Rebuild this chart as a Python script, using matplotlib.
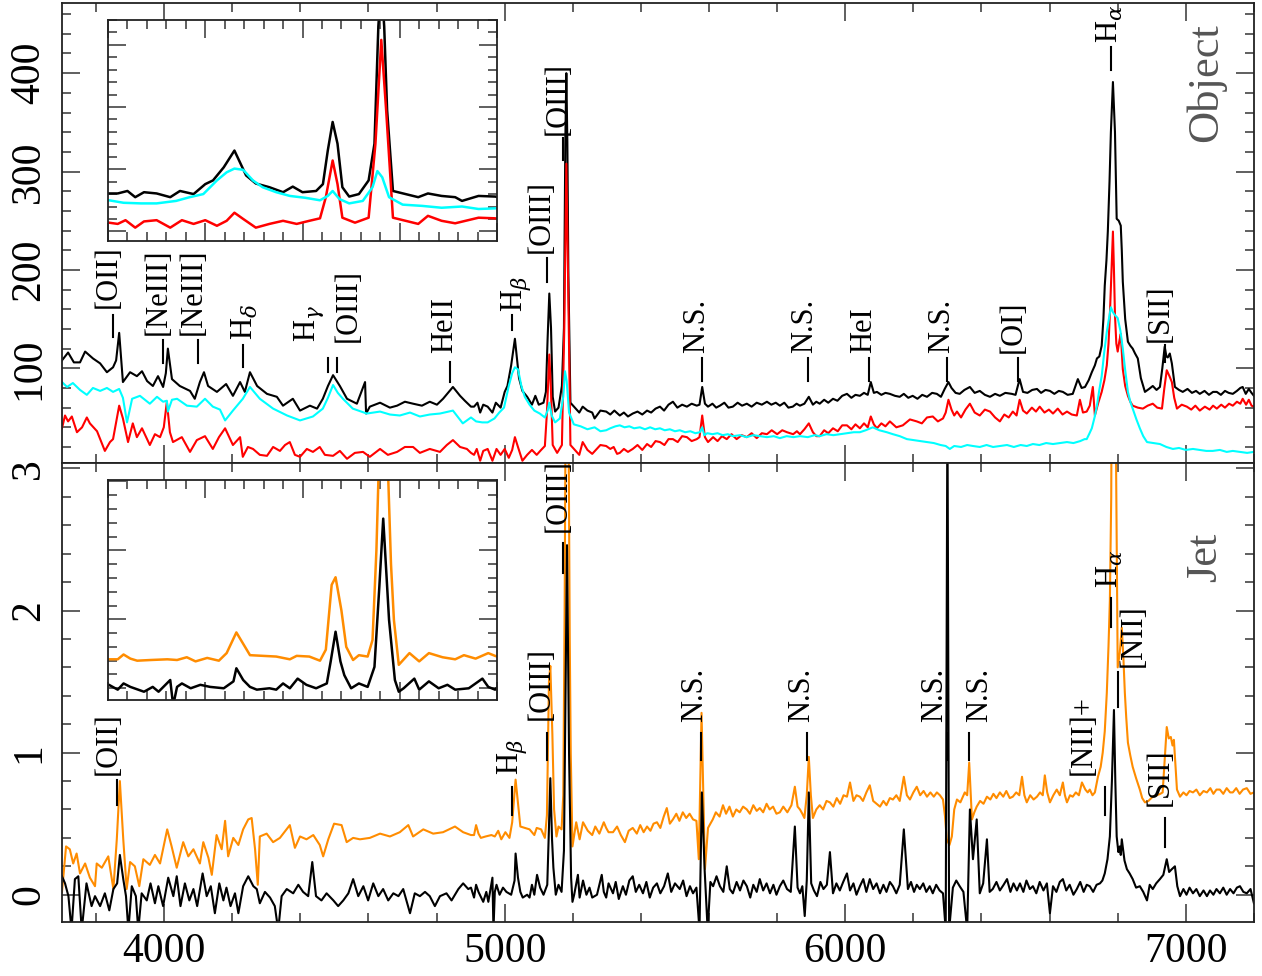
import matplotlib
matplotlib.use('Agg')
import matplotlib.pyplot as plt
from matplotlib.ticker import MultipleLocator

# ---- Object spectra (top panel): (wavelength [A], flux) ----
obj_black = [
    (3700, 108), (3718, 116), (3735, 106), (3753, 106), (3768, 117), (3791, 110), (3812, 105), (3832, 96),
    (3850, 101), (3859, 108), (3868, 136), (3879, 86), (3900, 96), (3920, 92), (3935, 97), (3950, 87),
    (3967, 82), (3982, 92), (3997, 81), (4005, 95), (4011, 120), (4023, 89), (4046, 82), (4076, 77),
    (4090, 69), (4105, 86), (4117, 96), (4129, 82), (4155, 76), (4182, 84), (4202, 72), (4223, 86),
    (4237, 76), (4252, 96), (4273, 82), (4302, 74), (4331, 71), (4349, 62), (4378, 69), (4399, 57),
    (4428, 62), (4449, 59), (4466, 69), (4481, 82), (4496, 93), (4516, 82), (4537, 69), (4566, 64),
    (4590, 86), (4593, 54), (4604, 61), (4634, 65), (4663, 60), (4684, 62), (4707, 66), (4731, 64),
    (4757, 62), (4780, 66), (4801, 63), (4819, 69), (4848, 81), (4869, 72), (4883, 67), (4901, 61),
    (4910, 61), (4920, 65), (4928, 55), (4937, 63), (4950, 61), (4964, 55), (4974, 65), (4988, 60),
    (5000, 76), (5008, 82), (5019, 103), (5030, 130), (5042, 90), (5052, 77), (5066, 71), (5080, 63),
    (5090, 72), (5100, 63), (5114, 65), (5121, 76), (5126, 130), (5131, 176), (5136, 141), (5141, 71),
    (5148, 56), (5158, 60), (5168, 82), (5174, 141), (5178, 330), (5181, 400), (5184, 330), (5187, 195),
    (5193, 65), (5206, 60), (5219, 55), (5229, 61), (5243, 57), (5257, 55), (5264, 49), (5281, 57),
    (5298, 56), (5310, 53), (5322, 57), (5338, 52), (5350, 55), (5362, 51), (5376, 54), (5390, 56),
    (5404, 53), (5418, 57), (5430, 55), (5443, 59), (5456, 61), (5468, 57), (5481, 63), (5494, 66),
    (5507, 60), (5521, 63), (5535, 61), (5549, 64), (5564, 62), (5572, 63), (5580, 81), (5588, 64),
    (5597, 61), (5610, 64), (5621, 60), (5632, 62), (5645, 65), (5657, 60), (5670, 61), (5684, 65),
    (5697, 62), (5711, 64), (5725, 61), (5740, 65), (5755, 63), (5770, 66), (5783, 63), (5796, 65),
    (5808, 62), (5821, 65), (5833, 60), (5846, 61), (5857, 64), (5867, 62), (5880, 64), (5893, 71),
    (5905, 63), (5915, 66), (5925, 64), (5938, 68), (5950, 65), (5964, 69), (5977, 67), (5991, 72),
    (6005, 74), (6018, 70), (6030, 73), (6043, 72), (6055, 75), (6066, 73), (6075, 86), (6084, 75),
    (6093, 76), (6106, 73), (6118, 75), (6131, 74), (6146, 72), (6160, 71), (6172, 74), (6185, 70),
    (6198, 72), (6212, 69), (6226, 73), (6240, 71), (6255, 75), (6269, 74), (6281, 71), (6292, 79),
    (6303, 86), (6312, 80), (6324, 75), (6336, 74), (6350, 78), (6366, 81), (6380, 75), (6395, 77),
    (6410, 73), (6425, 71), (6440, 74), (6454, 72), (6470, 75), (6489, 74), (6500, 73), (6512, 89),
    (6522, 76), (6535, 75), (6549, 78), (6563, 79), (6575, 75), (6588, 78), (6601, 77), (6614, 74),
    (6627, 77), (6639, 76), (6653, 73), (6668, 74), (6683, 89), (6694, 80), (6704, 81), (6715, 88),
    (6724, 96), (6733, 103), (6739, 110), (6746, 112), (6753, 123), (6758, 150), (6762, 184), (6767, 210),
    (6771, 239), (6776, 290), (6780, 340), (6786, 391), (6792, 340), (6795, 290), (6797, 252), (6803, 250),
    (6809, 245), (6812, 220), (6815, 188), (6822, 150), (6830, 127), (6837, 123), (6844, 120), (6851, 115),
    (6859, 110), (6868, 90), (6880, 76), (6892, 79), (6903, 82), (6914, 78), (6924, 81), (6931, 100),
    (6938, 122), (6943, 112), (6947, 111), (6953, 115), (6959, 105), (6968, 81), (6980, 78), (6991, 76),
    (7005, 79), (7018, 75), (7030, 77), (7041, 74), (7055, 77), (7068, 73), (7080, 76), (7091, 76),
    (7103, 73), (7115, 77), (7126, 75), (7138, 74), (7150, 77), (7160, 80), (7167, 81), (7176, 74),
    (7185, 79), (7193, 75), (7200, 72),
]

obj_red = [
    (3700, 39), (3709, 52), (3718, 46), (3729, 51), (3744, 35), (3759, 40), (3773, 50), (3782, 44),
    (3803, 36), (3826, 16), (3841, 25), (3850, 28), (3859, 45), (3868, 62), (3879, 49), (3894, 25),
    (3908, 44), (3920, 30), (3935, 39), (3958, 22), (3973, 33), (3988, 30), (3999, 40), (4008, 66),
    (4017, 35), (4026, 25), (4052, 30), (4076, 15), (4096, 27), (4120, 31), (4143, 18), (4161, 30),
    (4179, 39), (4202, 22), (4223, 30), (4231, 10), (4246, 20), (4261, 18), (4281, 12), (4302, 11),
    (4320, 20), (4340, 16), (4355, 22), (4369, 25), (4384, 12), (4399, 10), (4419, 18), (4437, 15),
    (4457, 20), (4472, 12), (4496, 11), (4516, 16), (4537, 8), (4560, 14), (4584, 15), (4604, 10),
    (4634, 18), (4657, 12), (4684, 15), (4707, 20), (4731, 20), (4751, 14), (4780, 18), (4810, 15),
    (4830, 22), (4848, 27), (4869, 20), (4889, 18), (4901, 14), (4910, 12), (4918, 18), (4928, 6),
    (4937, 16), (4950, 18), (4964, 6), (4976, 18), (4988, 12), (5000, 18), (5012, 9), (5022, 17),
    (5030, 30), (5039, 20), (5052, 6), (5066, 12), (5080, 17), (5094, 12), (5107, 17), (5118, 21),
    (5124, 55), (5131, 114), (5136, 76), (5141, 22), (5154, 14), (5168, 22), (5175, 141), (5181, 308),
    (5186, 195), (5193, 22), (5206, 17), (5219, 12), (5229, 25), (5243, 17), (5257, 13), (5281, 22),
    (5298, 21), (5310, 18), (5320, 20), (5330, 13), (5338, 14), (5350, 18), (5362, 15), (5376, 18),
    (5390, 22), (5404, 17), (5418, 23), (5430, 20), (5443, 26), (5456, 25), (5469, 22), (5481, 28),
    (5494, 28), (5508, 25), (5521, 31), (5535, 30), (5549, 26), (5564, 28), (5572, 30), (5580, 52),
    (5588, 30), (5597, 25), (5612, 30), (5625, 26), (5638, 31), (5652, 28), (5666, 33), (5681, 28),
    (5696, 32), (5711, 30), (5725, 34), (5740, 29), (5755, 34), (5770, 33), (5784, 37), (5800, 33),
    (5815, 37), (5829, 35), (5847, 33), (5858, 36), (5867, 33), (5880, 38), (5893, 44), (5905, 35),
    (5915, 31), (5925, 31), (5938, 37), (5950, 34), (5964, 39), (5978, 36), (5991, 42), (6005, 42),
    (6018, 38), (6030, 43), (6043, 39), (6055, 44), (6066, 40), (6075, 51), (6084, 43), (6093, 39),
    (6106, 44), (6118, 41), (6131, 46), (6150, 40), (6169, 42), (6190, 48), (6210, 46), (6225, 44),
    (6240, 50), (6257, 51), (6272, 46), (6287, 49), (6295, 55), (6303, 68), (6312, 58), (6320, 52),
    (6328, 56), (6340, 50), (6353, 58), (6366, 64), (6380, 55), (6395, 52), (6410, 58), (6425, 56),
    (6440, 50), (6454, 46), (6467, 53), (6480, 50), (6492, 56), (6503, 52), (6512, 68), (6522, 57),
    (6533, 54), (6548, 60), (6560, 56), (6571, 61), (6585, 55), (6598, 58), (6610, 54), (6624, 59),
    (6638, 53), (6651, 56), (6665, 53), (6680, 52), (6689, 68), (6698, 55), (6709, 56), (6718, 62),
    (6727, 81), (6733, 52), (6743, 65), (6753, 76), (6761, 88), (6768, 103), (6773, 125), (6777, 154),
    (6782, 200), (6786, 239), (6789, 200), (6792, 154), (6796, 125), (6800, 117), (6805, 128), (6809, 135),
    (6815, 99), (6822, 82), (6830, 72), (6837, 66), (6844, 62), (6859, 60), (6874, 59), (6888, 62),
    (6903, 64), (6916, 60), (6930, 59), (6937, 80), (6944, 98), (6952, 92), (6959, 86), (6966, 70),
    (6974, 59), (6988, 63), (7003, 61), (7016, 58), (7028, 62), (7041, 57), (7056, 61), (7070, 58),
    (7080, 62), (7091, 59), (7104, 63), (7115, 60), (7127, 64), (7138, 62), (7150, 66), (7160, 64),
    (7167, 69), (7177, 63), (7185, 68), (7193, 62), (7200, 61),
]

obj_cyan = [
    (3700, 86), (3715, 81), (3732, 85), (3753, 78), (3773, 73), (3791, 80), (3812, 77), (3832, 80),
    (3850, 76), (3868, 79), (3879, 70), (3891, 45), (3906, 69), (3929, 72), (3958, 64), (3979, 71),
    (3997, 66), (4008, 67), (4011, 56), (4023, 68), (4038, 69), (4067, 62), (4096, 61), (4120, 69),
    (4143, 61), (4164, 58), (4179, 47), (4202, 57), (4231, 69), (4252, 81), (4281, 69), (4320, 59),
    (4361, 52), (4399, 47), (4437, 51), (4466, 59), (4481, 70), (4496, 83), (4510, 75), (4525, 69),
    (4554, 59), (4595, 54), (4634, 56), (4663, 53), (4692, 52), (4722, 55), (4751, 51), (4780, 53),
    (4810, 54), (4848, 57), (4877, 44), (4901, 50), (4916, 46), (4934, 45), (4950, 45), (4970, 49),
    (4984, 55), (4998, 60), (5012, 82), (5022, 95), (5030, 101), (5039, 99), (5049, 82), (5059, 71),
    (5073, 63), (5087, 57), (5103, 54), (5118, 50), (5126, 57), (5131, 65), (5138, 52), (5148, 45),
    (5162, 49), (5172, 71), (5177, 97), (5182, 87), (5189, 55), (5203, 43), (5223, 41), (5243, 38),
    (5264, 40), (5281, 36), (5298, 37), (5310, 39), (5325, 41), (5338, 42), (5352, 40), (5366, 41),
    (5380, 39), (5397, 40), (5412, 38), (5427, 40), (5442, 38), (5456, 39), (5470, 37), (5485, 38),
    (5500, 36), (5514, 37), (5530, 35), (5545, 36), (5560, 34), (5573, 35), (5580, 40), (5586, 32),
    (5595, 34), (5610, 33), (5625, 34), (5640, 32), (5655, 33), (5670, 31), (5691, 32), (5710, 30),
    (5730, 32), (5749, 31), (5770, 30), (5790, 31), (5808, 29), (5828, 31), (5848, 30), (5867, 31),
    (5890, 30), (5910, 32), (5925, 31), (5945, 33), (5965, 32), (5984, 33), (6005, 34), (6025, 35),
    (6043, 35), (6060, 37), (6081, 40), (6100, 37), (6122, 35), (6140, 33), (6160, 31), (6181, 28),
    (6200, 27), (6220, 26), (6240, 25), (6260, 24), (6280, 22), (6295, 21), (6307, 18), (6320, 21),
    (6340, 20), (6358, 22), (6375, 21), (6395, 20), (6415, 22), (6434, 20), (6454, 21), (6475, 22),
    (6495, 20), (6515, 22), (6533, 21), (6551, 23), (6570, 22), (6590, 24), (6610, 23), (6630, 24),
    (6651, 25), (6670, 24), (6690, 26), (6703, 28), (6709, 28), (6716, 33), (6724, 39), (6732, 50),
    (6739, 62), (6746, 78), (6753, 92), (6760, 115), (6768, 137), (6775, 152), (6780, 162), (6786, 157),
    (6792, 154), (6800, 151), (6808, 138), (6815, 120), (6822, 98), (6830, 76), (6837, 66), (6844, 59),
    (6855, 48), (6865, 39), (6875, 31), (6886, 25), (6905, 24), (6924, 23), (6943, 20), (6962, 18),
    (6980, 19), (7000, 17), (7021, 18), (7040, 17), (7060, 16), (7079, 16), (7100, 17), (7120, 15),
    (7138, 16), (7160, 15), (7180, 14), (7200, 15),
]

# ---- Jet spectra (bottom panel) ----
jet_orange = [
    (3700, 0.02), (3712, 0.34), (3723, 0.32), (3733, 0.22), (3743, 0.29), (3753, 0.15), (3768, 0.22),
    (3782, 0.12), (3797, 0.06), (3802, 0.22), (3817, 0.19), (3836, 0.27), (3851, 0.04), (3861, 0.39),
    (3870, 0.80), (3880, 0.39), (3890, 0.04), (3900, 0.23), (3914, 0.20), (3927, 0.06), (3939, 0.25),
    (3958, 0.21), (3973, 0.28), (3988, 0.22), (4009, 0.46), (4022, 0.34), (4037, 0.19), (4056, 0.37),
    (4071, 0.27), (4086, 0.32), (4105, 0.22), (4115, 0.37), (4130, 0.26), (4140, 0.14), (4154, 0.42),
    (4169, 0.32), (4179, 0.52), (4188, 0.27), (4203, 0.40), (4218, 0.35), (4232, 0.46), (4247, 0.53),
    (4257, 0.54), (4267, 0.32), (4275, 0.07), (4281, 0.41), (4301, 0.43), (4320, 0.37), (4340, 0.40),
    (4369, 0.49), (4384, 0.33), (4399, 0.41), (4418, 0.39), (4438, 0.42), (4457, 0.35), (4467, 0.27),
    (4482, 0.39), (4499, 0.50), (4521, 0.49), (4536, 0.37), (4555, 0.40), (4575, 0.39), (4604, 0.40),
    (4634, 0.43), (4663, 0.41), (4692, 0.44), (4717, 0.49), (4731, 0.41), (4761, 0.46), (4790, 0.43),
    (4819, 0.44), (4854, 0.48), (4878, 0.44), (4901, 0.42), (4910, 0.42), (4916, 0.49), (4923, 0.43),
    (4930, 0.40), (4944, 0.41), (4961, 0.42), (4971, 0.41), (4981, 0.45), (4990, 0.39), (5002, 0.44),
    (5014, 0.40), (5022, 0.51), (5032, 0.81), (5046, 0.48), (5060, 0.47), (5073, 0.46), (5087, 0.42),
    (5094, 0.47), (5107, 0.46), (5118, 0.40), (5124, 0.56), (5130, 1.50), (5134, 1.61), (5140, 1.13),
    (5145, 0.60), (5152, 0.41), (5158, 0.48), (5167, 0.46), (5172, 0.70), (5176, 2.0), (5180, 4.0),
    (5186, 4.0), (5191, 1.8), (5194, 0.99), (5199, 0.34), (5210, 0.51), (5220, 0.39), (5230, 0.51),
    (5244, 0.45), (5257, 0.42), (5266, 0.48), (5278, 0.43), (5291, 0.51), (5298, 0.47), (5305, 0.44),
    (5318, 0.44), (5330, 0.48), (5341, 0.42), (5353, 0.37), (5364, 0.45), (5376, 0.47), (5388, 0.43),
    (5398, 0.49), (5408, 0.44), (5418, 0.48), (5428, 0.45), (5437, 0.50), (5447, 0.51), (5457, 0.47),
    (5467, 0.55), (5476, 0.61), (5485, 0.50), (5494, 0.53), (5504, 0.57), (5513, 0.52), (5523, 0.58),
    (5533, 0.54), (5543, 0.57), (5553, 0.53), (5563, 0.52), (5570, 0.25), (5578, 1.28), (5588, 0.18),
    (5597, 0.47), (5611, 0.53), (5620, 0.58), (5631, 0.55), (5641, 0.63), (5650, 0.57), (5660, 0.62),
    (5670, 0.55), (5680, 0.60), (5690, 0.58), (5700, 0.62), (5711, 0.60), (5720, 0.57), (5730, 0.63),
    (5740, 0.59), (5749, 0.61), (5759, 0.58), (5769, 0.64), (5778, 0.60), (5788, 0.62), (5798, 0.57),
    (5808, 0.58), (5818, 0.62), (5830, 0.58), (5842, 0.63), (5852, 0.76), (5860, 0.62), (5867, 0.60),
    (5874, 0.57), (5880, 0.54), (5887, 0.70), (5893, 0.97), (5899, 0.70), (5905, 0.54), (5915, 0.60),
    (5925, 0.63), (5935, 0.60), (5945, 0.66), (5955, 0.65), (5965, 0.62), (5975, 0.68), (5985, 0.64),
    (5995, 0.70), (6005, 0.69), (6014, 0.79), (6024, 0.66), (6033, 0.70), (6043, 0.69), (6052, 0.66),
    (6062, 0.72), (6072, 0.77), (6082, 0.66), (6092, 0.64), (6102, 0.62), (6112, 0.66), (6121, 0.63),
    (6131, 0.68), (6140, 0.67), (6150, 0.70), (6160, 0.66), (6172, 0.83), (6181, 0.70), (6190, 0.67),
    (6200, 0.72), (6210, 0.76), (6220, 0.70), (6230, 0.73), (6240, 0.69), (6250, 0.72), (6260, 0.69),
    (6269, 0.72), (6278, 0.70), (6287, 0.67), (6293, 0.55), (6298, 0.39), (6306, 0.35), (6313, 0.41),
    (6320, 0.60), (6328, 0.67), (6338, 0.65), (6351, 0.72), (6358, 0.70), (6364, 0.93), (6372, 0.53),
    (6379, 0.58), (6386, 0.62), (6396, 0.66), (6406, 0.64), (6416, 0.69), (6426, 0.67), (6435, 0.71),
    (6444, 0.68), (6454, 0.72), (6464, 0.69), (6473, 0.73), (6483, 0.68), (6492, 0.69), (6502, 0.72),
    (6511, 0.70), (6519, 0.83), (6526, 0.70), (6533, 0.65), (6543, 0.70), (6553, 0.67), (6563, 0.69),
    (6572, 0.72), (6580, 0.70), (6586, 0.84), (6593, 0.72), (6601, 0.65), (6611, 0.70), (6621, 0.74),
    (6630, 0.70), (6639, 0.79), (6645, 0.70), (6651, 0.65), (6660, 0.70), (6668, 0.69), (6677, 0.72),
    (6686, 0.70), (6695, 0.79), (6705, 0.74), (6712, 0.72), (6718, 0.74), (6726, 0.70), (6733, 0.72),
    (6742, 0.83), (6750, 0.90), (6756, 1.00), (6762, 1.15), (6768, 1.42), (6773, 1.75), (6777, 2.07),
    (6781, 2.8), (6783, 4.0), (6792, 4.0), (6797, 2.5), (6800, 1.60), (6806, 1.70), (6812, 1.88),
    (6817, 1.65), (6821, 1.42), (6825, 1.25), (6830, 1.07), (6837, 0.98), (6844, 0.90), (6854, 0.82),
    (6865, 0.74), (6872, 0.68), (6880, 0.65), (6890, 0.66), (6903, 0.69), (6915, 0.70), (6925, 0.71),
    (6932, 0.72), (6938, 0.95), (6944, 1.18), (6950, 1.10), (6956, 1.11), (6961, 1.05), (6965, 1.09),
    (6970, 0.90), (6974, 0.74), (6983, 0.69), (6993, 0.72), (7002, 0.70), (7011, 0.73), (7021, 0.72),
    (7031, 0.74), (7041, 0.70), (7052, 0.73), (7062, 0.72), (7072, 0.75), (7081, 0.71), (7090, 0.74),
    (7100, 0.74), (7110, 0.71), (7120, 0.75), (7130, 0.72), (7138, 0.72), (7148, 0.75), (7158, 0.71),
    (7168, 0.74), (7179, 0.75), (7190, 0.71), (7200, 0.72),
]

jet_black = [
    (3700, 0.13), (3709, 0.08), (3719, -0.01), (3728, -0.25), (3738, 0.11), (3748, 0.13), (3758, -0.25),
    (3772, 0.08), (3787, -0.08), (3797, -0.01), (3812, -0.08), (3826, 0.01), (3839, -0.11), (3851, 0.04),
    (3862, 0.08), (3870, 0.28), (3880, 0.11), (3888, -0.01), (3895, -0.25), (3905, 0.06), (3917, -0.01),
    (3924, -0.25), (3934, 0.01), (3949, -0.04), (3960, 0.08), (3973, -0.06), (3983, 0.06), (3997, -0.08),
    (4012, 0.12), (4027, -0.01), (4037, 0.13), (4048, -0.08), (4061, 0.08), (4074, -0.04), (4086, 0.04),
    (4097, -0.08), (4113, 0.15), (4125, -0.01), (4137, 0.06), (4149, -0.13), (4162, 0.08), (4174, -0.04),
    (4183, 0.05), (4195, -0.08), (4208, 0.01), (4218, -0.13), (4232, 0.06), (4247, 0.13), (4262, 0.06),
    (4272, 0.04), (4281, -0.06), (4296, 0.02), (4311, -0.02), (4325, -0.08), (4335, -0.25), (4345, -0.01),
    (4360, 0.04), (4379, 0.01), (4394, 0.07), (4408, 0.02), (4423, -0.01), (4435, 0.23), (4446, -0.01),
    (4462, -0.04), (4477, 0.01), (4497, -0.04), (4511, -0.08), (4526, -0.04), (4541, 0.01), (4555, 0.11),
    (4570, -0.01), (4585, 0.06), (4599, -0.04), (4614, 0.08), (4629, -0.01), (4643, 0.04), (4658, -0.04),
    (4673, 0.01), (4688, -0.01), (4702, 0.04), (4722, -0.13), (4736, 0.01), (4751, -0.01), (4766, 0.02),
    (4780, -0.01), (4795, -0.08), (4810, -0.01), (4829, 0.01), (4844, -0.04), (4864, 0.04), (4878, 0.08),
    (4893, 0.04), (4901, 0.05), (4910, -0.02), (4916, 0.07), (4923, 0.02), (4937, -0.05), (4946, 0.02),
    (4952, -0.05), (4964, 0.12), (4967, -0.25), (4971, 0.02), (4976, 0.07), (4985, 0.00), (4995, 0.05),
    (5005, 0.02), (5019, 0.00), (5029, 0.10), (5032, 0.29), (5039, 0.12), (5046, 0.02), (5053, -0.02),
    (5066, 0.00), (5073, -0.02), (5080, 0.07), (5087, 0.00), (5095, 0.14), (5104, 0.05), (5114, 0.00),
    (5125, 0.07), (5129, 0.39), (5134, 0.82), (5139, 0.39), (5143, 0.19), (5150, 0.00), (5158, 0.07),
    (5167, 0.02), (5174, 0.31), (5179, 1.47), (5183, 2.46), (5189, 0.99), (5195, 0.12), (5199, -0.05),
    (5204, 0.00), (5215, 0.14), (5220, -0.02), (5230, 0.10), (5240, 0.00), (5249, 0.05), (5257, -0.02),
    (5271, 0.00), (5285, 0.14), (5291, 0.02), (5298, -0.02), (5305, 0.08), (5318, 0.01), (5326, 0.09),
    (5335, -0.03), (5347, 0.06), (5356, 0.00), (5366, 0.10), (5376, 0.13), (5385, 0.02), (5395, 0.07),
    (5406, 0.01), (5416, 0.09), (5426, -0.02), (5436, 0.05), (5447, 0.08), (5457, 0.01), (5468, 0.06),
    (5479, 0.15), (5489, 0.02), (5500, 0.08), (5514, 0.04), (5524, 0.10), (5534, -0.01), (5544, 0.06),
    (5553, 0.01), (5563, 0.05), (5572, -0.25), (5579, 0.72), (5587, 0.18), (5596, -0.25), (5604, 0.09),
    (5612, 0.06), (5622, 0.13), (5632, 0.06), (5642, 0.02), (5652, 0.20), (5661, 0.04), (5670, 0.01),
    (5681, 0.09), (5691, 0.03), (5701, 0.10), (5711, 0.06), (5721, -0.02), (5730, 0.07), (5740, 0.02),
    (5749, 0.11), (5759, 0.03), (5769, 0.08), (5779, 0.01), (5789, 0.07), (5798, 0.00), (5808, 0.06),
    (5818, 0.10), (5829, 0.04), (5840, 0.02), (5852, 0.48), (5860, 0.05), (5867, 0.01), (5874, 0.06),
    (5881, -0.15), (5887, 0.10), (5893, 0.72), (5900, 0.08), (5908, 0.03), (5917, -0.01), (5927, 0.09),
    (5936, 0.04), (5946, 0.07), (5955, 0.30), (5964, 0.01), (5974, 0.08), (5984, 0.03), (5994, 0.09),
    (6005, 0.15), (6014, 0.03), (6024, 0.08), (6033, 0.00), (6043, 0.06), (6053, 0.11), (6062, 0.02),
    (6072, 0.11), (6082, 0.04), (6092, 0.08), (6102, 0.01), (6112, 0.07), (6121, 0.02), (6131, 0.09),
    (6140, 0.06), (6150, 0.01), (6160, 0.07), (6172, 0.46), (6184, 0.04), (6193, 0.09), (6202, 0.02),
    (6210, 0.07), (6219, 0.04), (6229, 0.08), (6238, 0.02), (6248, 0.06), (6257, 0.01), (6267, 0.07),
    (6277, 0.03), (6287, 0.01), (6295, -0.25), (6300, 3.5), (6305, -0.25), (6316, 0.05), (6326, 0.10),
    (6336, 0.06), (6347, 0.02), (6358, -0.25), (6366, 0.60), (6375, 0.25), (6386, 0.53), (6395, 0.01),
    (6405, 0.08), (6416, 0.39), (6424, 0.02), (6433, 0.04), (6444, 0.09), (6454, 0.03), (6465, 0.07),
    (6475, 0.11), (6485, 0.02), (6494, 0.08), (6504, 0.03), (6513, 0.08), (6523, 0.02), (6532, 0.10),
    (6542, 0.04), (6551, 0.06), (6561, 0.01), (6571, 0.09), (6582, 0.03), (6592, 0.08), (6601, -0.13),
    (6610, 0.06), (6620, 0.02), (6630, 0.09), (6639, 0.11), (6649, 0.03), (6659, 0.07), (6670, 0.00),
    (6680, 0.04), (6690, 0.09), (6700, 0.02), (6709, 0.07), (6718, 0.06), (6728, 0.02), (6738, 0.07),
    (6748, 0.08), (6755, 0.10), (6762, 0.15), (6770, 0.25), (6777, 0.41), (6783, 0.80), (6789, 1.30),
    (6793, 0.80), (6797, 0.41), (6802, 0.30), (6806, 0.34), (6809, 0.28), (6812, 0.39), (6820, 0.24),
    (6827, 0.18), (6835, 0.15), (6844, 0.11), (6854, 0.05), (6865, 0.06), (6875, 0.02), (6886, -0.04),
    (6894, 0.07), (6903, 0.04), (6913, 0.08), (6924, 0.11), (6934, 0.14), (6944, 0.25), (6951, 0.16),
    (6959, 0.18), (6968, 0.20), (6975, 0.06), (6983, -0.01), (6993, 0.04), (7002, 0.00), (7011, 0.05),
    (7021, 0.01), (7031, 0.04), (7041, -0.01), (7052, 0.03), (7062, -0.01), (7071, 0.03), (7081, 0.00),
    (7090, 0.04), (7100, 0.01), (7110, 0.05), (7120, 0.00), (7130, 0.04), (7140, 0.01), (7150, 0.05),
    (7159, 0.06), (7169, 0.02), (7179, 0.01), (7190, 0.04), (7200, -0.06),
]

# ---- line identifications: text, dash wavelength, dash bottom/top, text wavelength, text bottom ----
obj_lines = [
    ('[OII]', 3851, 131.8, 154.1, 3836, 161.3),
    ('[NeIII]', 3997, 105.3, 128.7, 3983, 133.8),
    ('[NeIII]', 4100, 105.3, 128.7, 4085, 133.8),
    (r'H$_\delta$', 4232, 101.3, 123.6, 4237, 128.7),
    (r'H$_\gamma$', 4482, 96.2, 110.4, 4428, 127.0),
    ('[OIII]', 4507, 96.2, 110.4, 4541, 127.0),
    ('HeII', 4839, 86.3, 106.7, 4824, 115.2),
    (r'H$_\beta$', 5020, 138.9, 154.1, 5033, 157.5),
    ('[OIII]', 5123, 187.7, 212.1, 5108, 216.9),
    ('[OIII]', 5172, 311.7, 334.1, 5157, 337.1),
    ('N.S.', 5578, 87.0, 110.4, 5563, 115.2),
    ('N.S.', 5891, 87.0, 110.4, 5881, 115.2),
    ('HeI', 6070, 87.0, 110.4, 6053, 115.2),
    ('N.S.', 6300, 87.0, 110.4, 6283, 115.2),
    ('[OI]', 6508, 87.0, 110.4, 6493, 115.2),
    (r'H$_\alpha$', 6779, 403.2, 426.6, 6777, 430.3),
    ('[SII]', 6938, 106.4, 123.6, 6924, 127.0),
]
jet_lines = [
    ('[OII]', 3862, 0.634, 0.809, 3836, 0.844),
    (r'H$_\beta$', 5022, 0.562, 0.759, 5024, 0.844),
    ('[OIII]', 5123, 0.951, 1.139, 5108, 1.230),
    ('[OIII]', 5172, 2.265, 2.475, 5157, 2.555),
    ('N.S.', 5575, 0.951, 1.139, 5559, 1.219),
    ('N.S.', 5889, 0.951, 1.139, 5872, 1.219),
    ('N.S.', 6300, 0.951, 1.139, 6263, 1.219),
    ('N.S.', 6364, 0.951, 1.139, 6395, 1.219),
    ('[NII]+', 6762, 0.562, 0.759, 6698, 0.844),
    (r'H$_\alpha$', 6779, 1.884, 2.089, 6777, 2.159),
    ('[NII]', 6801, 1.322, 1.568, 6845, 1.605),
    ('[SII]', 6938, 0.337, 0.541, 6924, 0.621),
]

plt.rcParams['font.family'] = ['Liberation Serif', 'DejaVu Serif']
plt.rcParams['mathtext.fontset'] = 'dejavuserif'

TICK_COLOR = '#444444'


def unpack(pairs):
    return [p[0] for p in pairs], [p[1] for p in pairs]


def style_axes(ax, ymajor, yminor, big=True):
    ax.xaxis.set_major_locator(MultipleLocator(1000 if big else 100))
    ax.xaxis.set_minor_locator(MultipleLocator(200 if big else 20))
    ax.yaxis.set_major_locator(MultipleLocator(ymajor))
    ax.yaxis.set_minor_locator(MultipleLocator(yminor))
    ax.tick_params(which='both', direction='in', top=True, right=True,
                   color=TICK_COLOR, width=1.2)
    ax.tick_params(which='major', length=13)
    ax.tick_params(which='minor', length=6.5)
    for sp in ax.spines.values():
        sp.set_linewidth(1.3)
        sp.set_color('#222222')


def add_lines(ax, lines):
    for text, xd, y0, y1, xt, yt in lines:
        ax.plot([xd, xd], [y0, y1], color='black', lw=1.5)
        ax.text(xt, yt, text, rotation=90, ha='center', va='bottom', fontsize=22)


def plot_spectra():
    fig = plt.figure(figsize=(12.62, 9.76), dpi=100)
    ax_top = fig.add_axes([0.0491, 0.5259, 0.9445, 0.4707])
    ax_bot = fig.add_axes([0.0491, 0.0556, 0.9445, 0.4703])

    top_series = [(obj_black, 'black'), (obj_red, 'red'), (obj_cyan, 'cyan')]
    bot_series = [(jet_orange, 'darkorange'), (jet_black, 'black')]

    # top panel: object
    for pairs, col in top_series:
        wl, fl = unpack(pairs)
        ax_top.plot(wl, fl, color=col, lw=1.5)
    ax_top.set_xlim(3700, 7200)
    ax_top.set_ylim(4, 471)
    style_axes(ax_top, 100, 20)
    ax_top.tick_params(labelbottom=False)
    ax_top.tick_params(axis='y', labelsize=30, pad=10)
    ax_top.set_yticks([100, 200, 300, 400])
    plt.setp(ax_top.get_yticklabels(), rotation=90, va='center')
    add_lines(ax_top, obj_lines)
    ax_top.text(0.9597, 0.957, 'Object', transform=ax_top.transAxes, rotation=90,
                ha='center', va='top', fontsize=32, color='#555555')

    # bottom panel: jet
    for pairs, col in bot_series:
        wl, fl = unpack(pairs)
        ax_bot.plot(wl, fl, color=col, lw=1.5)
    ax_bot.set_xlim(3700, 7200)
    ax_bot.set_ylim(-0.19, 3.04)
    style_axes(ax_bot, 1, 0.2)
    ax_bot.tick_params(axis='x', labelsize=30, pad=8)
    ax_bot.tick_params(axis='y', labelsize=30, pad=10)
    ax_bot.set_yticks([0, 1, 2, 3])
    plt.setp(ax_bot.get_yticklabels(), rotation=90, va='center')
    add_lines(ax_bot, jet_lines)
    ax_bot.text(0.9589, 0.847, 'Jet', transform=ax_bot.transAxes, rotation=90,
                ha='center', va='top', fontsize=32, color='#555555')

    # insets: zoom on H-beta / [OIII]
    ins_top = fig.add_axes([108 / 1262, 1 - 240.7 / 976, 389 / 1262, 220.7 / 976])
    for pairs, col in top_series:
        wl, fl = unpack(pairs)
        ins_top.plot(wl, fl, color=col, lw=1.8)
    ins_top.set_xlim(4900, 5300)
    ins_top.set_ylim(-15, 340)
    style_axes(ins_top, 100, 20, big=False)
    ins_top.tick_params(labelbottom=False, labelleft=False)

    ins_bot = fig.add_axes([108 / 1262, 1 - 700 / 976, 389 / 1262, 220 / 976])
    for pairs, col in bot_series:
        wl, fl = unpack(pairs)
        ins_bot.plot(wl, fl, color=col, lw=1.8)
    ins_bot.set_xlim(4900, 5300)
    ins_bot.set_ylim(-0.17, 3.02)
    style_axes(ins_bot, 1, 0.2, big=False)
    ins_bot.tick_params(labelbottom=False, labelleft=False)

    fig.savefig('out.png', dpi=100)


if __name__ == "__main__":
    plot_spectra()
